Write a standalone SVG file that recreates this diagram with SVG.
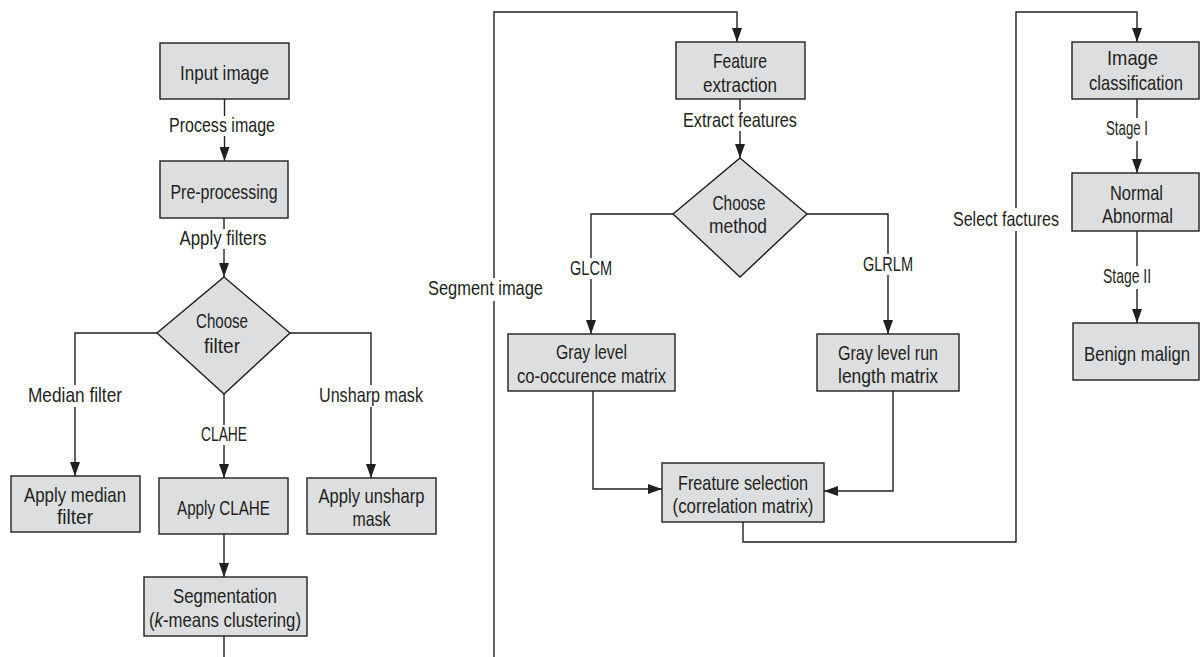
<svg xmlns="http://www.w3.org/2000/svg" width="1200" height="657" viewBox="0 0 1200 657">
<style>
.box{fill:#dddedf;stroke:#231f20;stroke-width:1.4}
.t{font-family:"Liberation Sans",Arial,sans-serif;font-size:21px;fill:#231f20;text-anchor:middle}
.ln{fill:none;stroke:#231f20;stroke-width:1.4}
.bg{fill:#ffffff;stroke:none}
</style>
<defs>
<marker id="arr" markerUnits="userSpaceOnUse" markerWidth="14" markerHeight="10" refX="14" refY="5" orient="auto">
<path d="M0,0 L14,5 L0,10 z" fill="#231f20"/>
</marker>
</defs>
<rect width="1200" height="657" fill="#ffffff"/>
<g id="connectors">
<path class="ln" d="M224.5,99 V161" marker-end="url(#arr)"/>
<path class="ln" d="M224,218 V277" marker-end="url(#arr)"/>
<path class="ln" d="M157,333 H75 V476" marker-end="url(#arr)"/>
<path class="ln" d="M224,394 V478" marker-end="url(#arr)"/>
<path class="ln" d="M290,333 H371 V478" marker-end="url(#arr)"/>
<path class="ln" d="M224,534 V577" marker-end="url(#arr)"/>
<path class="ln" d="M224,636 V657"/>
<path class="ln" d="M494,657 V12 H737 V42" marker-end="url(#arr)"/>
<path class="ln" d="M740,99 V158" marker-end="url(#arr)"/>
<path class="ln" d="M673,214 H591 V334" marker-end="url(#arr)"/>
<path class="ln" d="M807,214 H888 V334" marker-end="url(#arr)"/>
<path class="ln" d="M593,391 V489 H662" marker-end="url(#arr)"/>
<path class="ln" d="M893,391 V491 H824" marker-end="url(#arr)"/>
<path class="ln" d="M743,522 V542 H1016 V12 H1137 V42" marker-end="url(#arr)"/>
<path class="ln" d="M1137,99 V173" marker-end="url(#arr)"/>
<path class="ln" d="M1137,231 V323" marker-end="url(#arr)"/>
</g>
<g id="labels">
<rect class="bg" x="168" y="116" width="108" height="20"/>
<text class="t" x="222" y="132" textLength="106" lengthAdjust="spacingAndGlyphs">Process image</text>
<rect class="bg" x="178" y="229" width="91" height="20"/>
<text class="t" x="223" y="245" textLength="87" lengthAdjust="spacingAndGlyphs">Apply filters</text>
<rect class="bg" x="26" y="385" width="98" height="22"/>
<text class="t" x="75" y="402" textLength="94" lengthAdjust="spacingAndGlyphs">Median filter</text>
<rect class="bg" x="199" y="425" width="50" height="20"/>
<text class="t" x="224" y="441" textLength="46" lengthAdjust="spacingAndGlyphs">CLAHE</text>
<rect class="bg" x="317" y="385" width="108" height="22"/>
<text class="t" x="371" y="402" textLength="104" lengthAdjust="spacingAndGlyphs">Unsharp mask</text>
<rect class="bg" x="426" y="278" width="119" height="23"/>
<text class="t" x="485.5" y="295" textLength="115" lengthAdjust="spacingAndGlyphs">Segment image</text>
<rect class="bg" x="681" y="110" width="118" height="21"/>
<text class="t" x="740" y="127" textLength="114" lengthAdjust="spacingAndGlyphs">Extract features</text>
<rect class="bg" x="568" y="258" width="46" height="21"/>
<text class="t" x="591" y="275" textLength="42" lengthAdjust="spacingAndGlyphs">GLCM</text>
<rect class="bg" x="861" y="254" width="54" height="21"/>
<text class="t" x="888" y="271" textLength="50" lengthAdjust="spacingAndGlyphs">GLRLM</text>
<rect class="bg" x="951" y="208" width="110" height="23"/>
<text class="t" x="1006" y="226" textLength="106" lengthAdjust="spacingAndGlyphs">Select factures</text>
<rect class="bg" x="1104" y="118" width="46" height="23"/>
<text class="t" x="1127" y="135" textLength="42" lengthAdjust="spacingAndGlyphs">Stage I</text>
<rect class="bg" x="1101" y="266" width="52" height="23"/>
<text class="t" x="1127" y="283" textLength="48" lengthAdjust="spacingAndGlyphs">Stage II</text>
</g>
<g id="node-input">
<rect class="box" x="160" y="43" width="129" height="56"/>
<text class="t" x="224.5" y="80" textLength="89" lengthAdjust="spacingAndGlyphs">Input image</text>
</g>
<g id="node-preprocessing">
<rect class="box" x="160" y="161" width="128" height="57"/>
<text class="t" x="224" y="199" textLength="107" lengthAdjust="spacingAndGlyphs">Pre-processing</text>
</g>
<g id="node-choose-filter">
<polygon class="box" points="224,277 290,333 224,394 157,333"/>
<text class="t" x="222" y="328" textLength="52" lengthAdjust="spacingAndGlyphs">Choose</text>
<text class="t" x="222" y="353" textLength="36" lengthAdjust="spacingAndGlyphs">filter</text>
</g>
<g id="node-median">
<rect class="box" x="11" y="476" width="129" height="56"/>
<text class="t" x="75" y="502" textLength="102" lengthAdjust="spacingAndGlyphs">Apply median</text>
<text class="t" x="75" y="524" textLength="36" lengthAdjust="spacingAndGlyphs">filter</text>
</g>
<g id="node-clahe">
<rect class="box" x="159" y="478" width="129" height="56"/>
<text class="t" x="223.5" y="515" textLength="93" lengthAdjust="spacingAndGlyphs">Apply CLAHE</text>
</g>
<g id="node-unsharp">
<rect class="box" x="307" y="478" width="129" height="56"/>
<text class="t" x="371.5" y="503" textLength="106" lengthAdjust="spacingAndGlyphs">Apply unsharp</text>
<text class="t" x="371.5" y="526" textLength="38" lengthAdjust="spacingAndGlyphs">mask</text>
</g>
<g id="node-segmentation">
<rect class="box" x="144" y="577" width="163" height="59"/>
<text class="t" x="225" y="603" textLength="104" lengthAdjust="spacingAndGlyphs">Segmentation</text>
<text class="t" x="225" y="627" textLength="152" lengthAdjust="spacingAndGlyphs">(<tspan font-style="italic">k</tspan>-means clustering)</text>
</g>
<g id="node-feature-extraction">
<rect class="box" x="676" y="42" width="129" height="57"/>
<text class="t" x="740" y="68" textLength="54" lengthAdjust="spacingAndGlyphs">Feature</text>
<text class="t" x="740" y="92" textLength="74" lengthAdjust="spacingAndGlyphs">extraction</text>
</g>
<g id="node-choose-method">
<polygon class="box" points="740,158 807,214 740,277 673,214"/>
<text class="t" x="739" y="210" textLength="53" lengthAdjust="spacingAndGlyphs">Choose</text>
<text class="t" x="738" y="233" textLength="58" lengthAdjust="spacingAndGlyphs">method</text>
</g>
<g id="node-glcm">
<rect class="box" x="508" y="334" width="167" height="57"/>
<text class="t" x="591.5" y="359" textLength="71" lengthAdjust="spacingAndGlyphs">Gray level</text>
<text class="t" x="591.5" y="383" textLength="149" lengthAdjust="spacingAndGlyphs">co-occurence matrix</text>
</g>
<g id="node-glrlm">
<rect class="box" x="817" y="334" width="142" height="57"/>
<text class="t" x="888" y="360" textLength="100" lengthAdjust="spacingAndGlyphs">Gray level run</text>
<text class="t" x="888" y="383" textLength="100" lengthAdjust="spacingAndGlyphs">length matrix</text>
</g>
<g id="node-feature-selection">
<rect class="box" x="662" y="463" width="162" height="59"/>
<text class="t" x="743" y="490" textLength="130" lengthAdjust="spacingAndGlyphs">Freature selection</text>
<text class="t" x="743" y="513" textLength="141" lengthAdjust="spacingAndGlyphs">(correlation matrix)</text>
</g>
<g id="node-image-classification">
<rect class="box" x="1072" y="42" width="127" height="57"/>
<text class="t" x="1132.5" y="65" textLength="51" lengthAdjust="spacingAndGlyphs">Image</text>
<text class="t" x="1136" y="90" textLength="94" lengthAdjust="spacingAndGlyphs">classification</text>
</g>
<g id="node-normal">
<rect class="box" x="1072" y="173" width="127" height="58"/>
<text class="t" x="1136.5" y="200" textLength="53" lengthAdjust="spacingAndGlyphs">Normal</text>
<text class="t" x="1137.5" y="223" textLength="71" lengthAdjust="spacingAndGlyphs">Abnormal</text>
</g>
<g id="node-benign">
<rect class="box" x="1073" y="323" width="126" height="57"/>
<text class="t" x="1137" y="361" textLength="106" lengthAdjust="spacingAndGlyphs">Benign malign</text>
</g>
</svg>
